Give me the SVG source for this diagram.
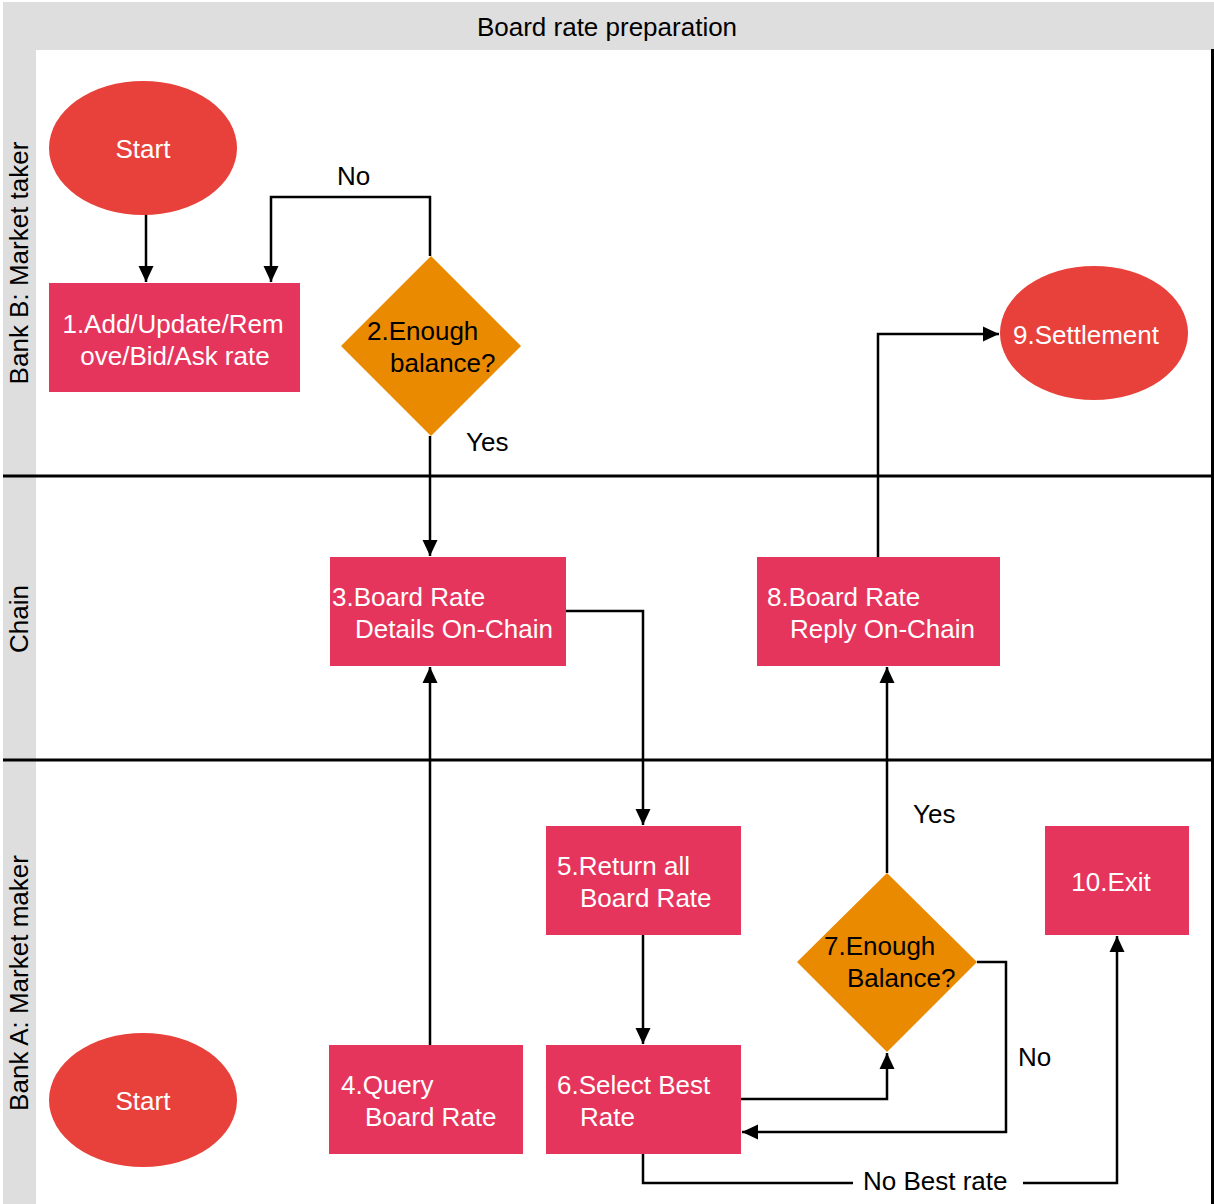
<svg xmlns="http://www.w3.org/2000/svg" width="1214" height="1204" viewBox="0 0 1214 1204">
<defs>
<style>
text{font-family:"Liberation Sans",Arial,sans-serif;font-size:26px}
.w{fill:#ffffff}
.k{fill:#000000}
.c{text-anchor:middle}
.ell{fill:#e8403a}
.box{fill:#e6355c}
.dia{fill:#ea8a00}
.lane{fill:#dedede}
.sep{stroke:#000;stroke-width:3;fill:none}
.con{stroke:#000;stroke-width:2.5;fill:none}
</style>
<marker id="ah" markerUnits="userSpaceOnUse" markerWidth="16" markerHeight="16" refX="16" refY="8" orient="auto">
<path d="M0,0.5 L16,8 L0,15.5 z" fill="#000"/>
</marker>
</defs>
<rect x="0" y="0" width="1214" height="1204" fill="#ffffff"/>
<g id="pool">
<rect class="lane" x="3" y="2" width="1211" height="48"/>
<rect class="lane" x="3" y="50" width="33" height="1154"/>
<text class="k c" x="607" y="36">Board rate preparation</text>
<text class="k c" transform="translate(28,263) rotate(-90)">Bank B: Market taker</text>
<text class="k c" transform="translate(28,619) rotate(-90)">Chain</text>
<text class="k c" transform="translate(28,983) rotate(-90)">Bank A: Market maker</text>
<line class="sep" x1="3" y1="476" x2="1214" y2="476"/>
<line class="sep" x1="3" y1="760" x2="1214" y2="760"/>
<line class="sep" x1="1212.5" y1="49" x2="1212.5" y2="1204"/>
</g>
<g id="connectors">
<path class="con" d="M146,214 V282" marker-end="url(#ah)"/>
<path class="con" d="M430,256 V197 H271 V282" marker-end="url(#ah)"/>
<path class="con" d="M430,436 V556" marker-end="url(#ah)"/>
<path class="con" d="M566,611 H643 V825" marker-end="url(#ah)"/>
<path class="con" d="M643,935 V1044" marker-end="url(#ah)"/>
<path class="con" d="M430,1045 V667" marker-end="url(#ah)"/>
<path class="con" d="M741,1099 H887 V1053" marker-end="url(#ah)"/>
<path class="con" d="M977,962 H1006 V1132 H742" marker-end="url(#ah)"/>
<path class="con" d="M887,873 V667" marker-end="url(#ah)"/>
<path class="con" d="M878,557 V334 H999" marker-end="url(#ah)"/>
<path class="con" d="M643,1154 V1183 H853"/>
<path class="con" d="M1023,1183 H1117 V936" marker-end="url(#ah)"/>
<text class="k" x="337" y="185">No</text>
<text class="k" x="466" y="451">Yes</text>
<text class="k" x="913" y="823">Yes</text>
<text class="k" x="1018" y="1066">No</text>
<text class="k" x="863" y="1190">No Best rate</text>
</g>
<g id="start-b">
<ellipse class="ell" cx="143" cy="148" rx="94" ry="67"/>
<text class="w c" x="143" y="158">Start</text>
</g>
<g id="n1">
<rect class="box" x="49" y="283" width="251" height="109"/>
<text class="w c" x="173" y="333">1.Add/Update/Rem</text>
<text class="w c" x="175" y="365">ove/Bid/Ask rate</text>
</g>
<g id="n2">
<polygon class="dia" points="431,256 521,346 431,436 341,346"/>
<text class="k" x="367" y="340">2.Enough</text>
<text class="k" x="390" y="372">balance?</text>
</g>
<g id="n9">
<ellipse class="ell" cx="1094" cy="333" rx="94" ry="67"/>
<text class="w c" x="1086" y="344">9.Settlement</text>
</g>
<g id="n3">
<rect class="box" x="330" y="557" width="236" height="109"/>
<text class="w" x="332" y="606">3.Board Rate</text>
<text class="w" x="355" y="638">Details On-Chain</text>
</g>
<g id="n8">
<rect class="box" x="757" y="557" width="243" height="109"/>
<text class="w" x="767" y="606">8.Board Rate</text>
<text class="w" x="790" y="638">Reply On-Chain</text>
</g>
<g id="n5">
<rect class="box" x="546" y="826" width="195" height="109"/>
<text class="w" x="557" y="875">5.Return all</text>
<text class="w" x="580" y="907">Board Rate</text>
</g>
<g id="n10">
<rect class="box" x="1045" y="826" width="144" height="109"/>
<text class="w c" x="1111" y="891">10.Exit</text>
</g>
<g id="n7">
<polygon class="dia" points="887,873 977,962 887,1052 797,962"/>
<text class="k" x="824" y="955">7.Enough</text>
<text class="k" x="847" y="987">Balance?</text>
</g>
<g id="start-a">
<ellipse class="ell" cx="143" cy="1100" rx="94" ry="67"/>
<text class="w c" x="143" y="1110">Start</text>
</g>
<g id="n4">
<rect class="box" x="329" y="1045" width="194" height="109"/>
<text class="w" x="341" y="1094">4.Query</text>
<text class="w" x="365" y="1126">Board Rate</text>
</g>
<g id="n6">
<rect class="box" x="546" y="1045" width="195" height="109"/>
<text class="w" x="557" y="1094">6.Select Best</text>
<text class="w" x="580" y="1126">Rate</text>
</g>
</svg>
